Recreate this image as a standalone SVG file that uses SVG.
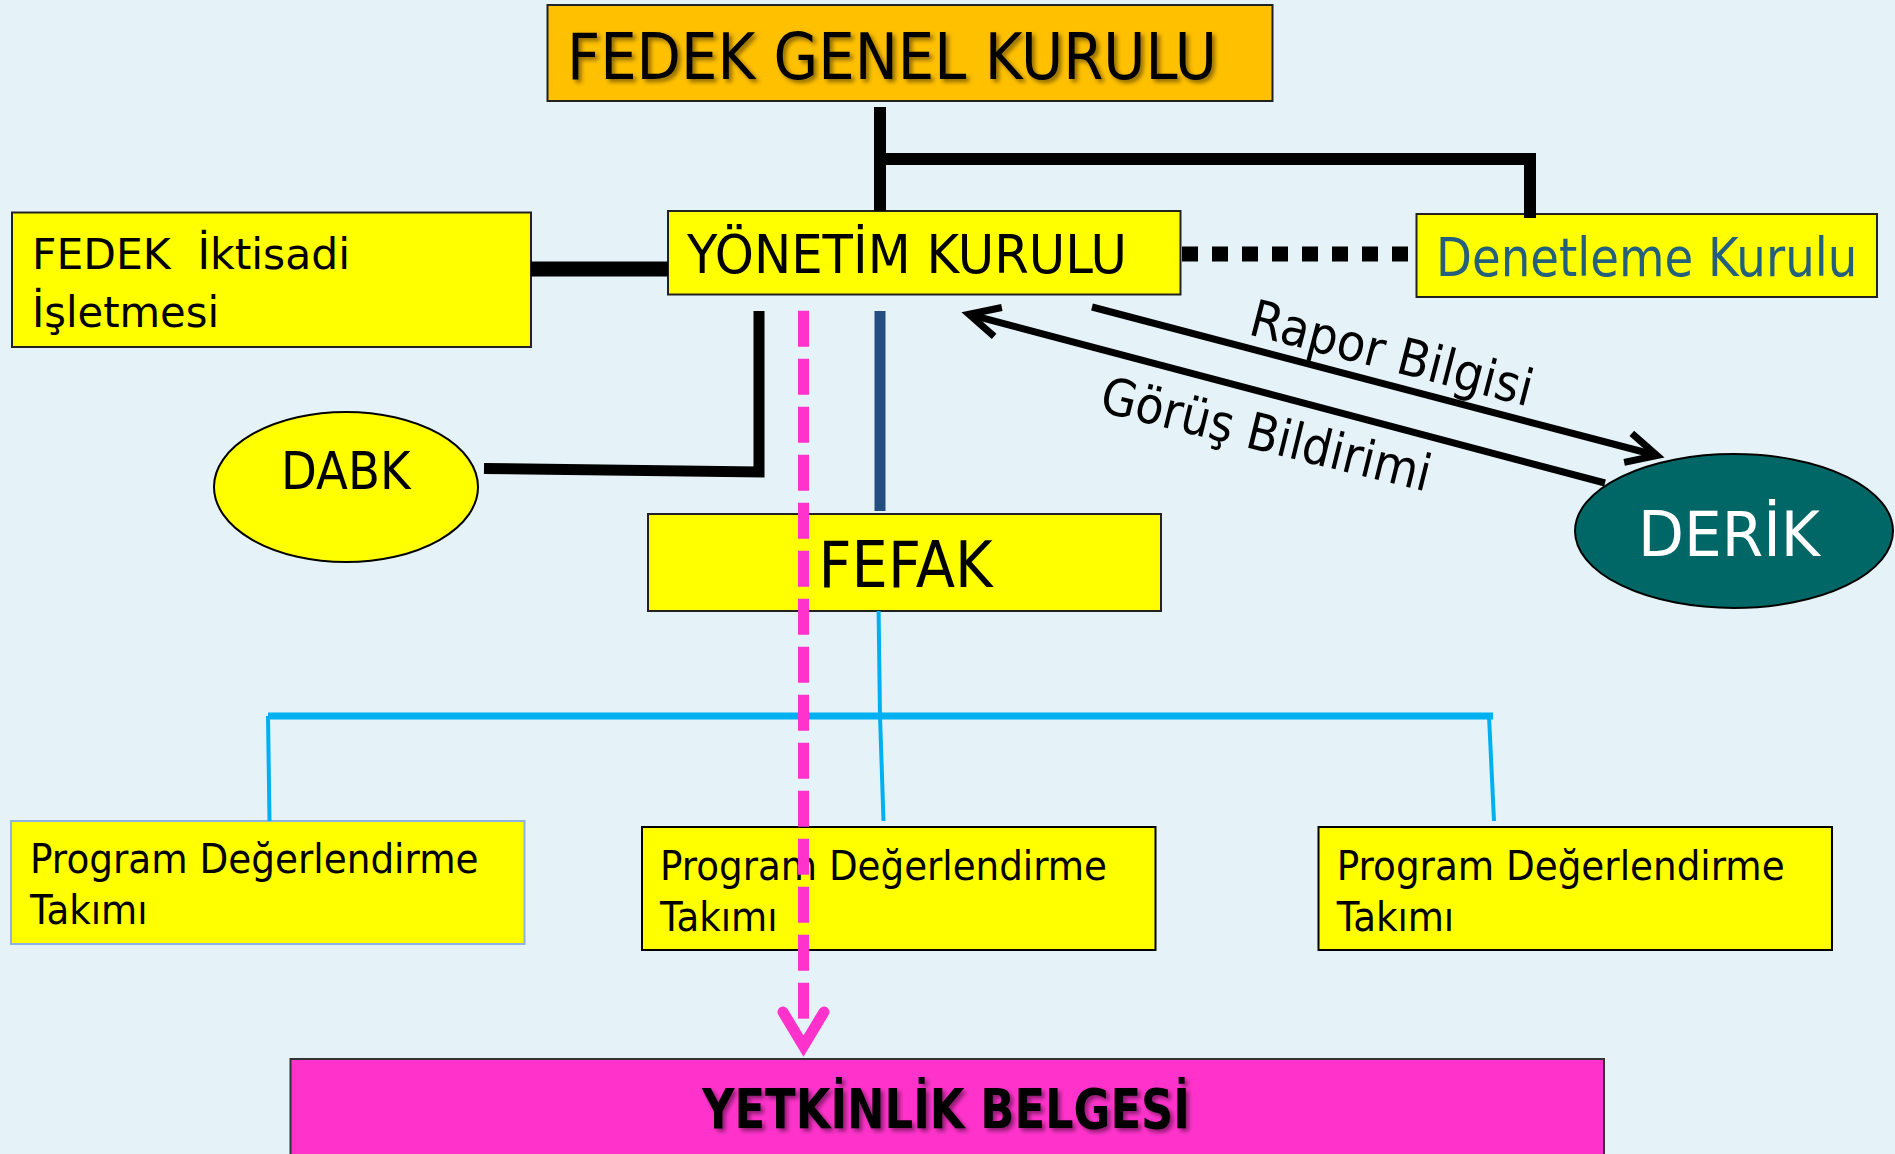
<svg xmlns="http://www.w3.org/2000/svg" width="1895" height="1154" viewBox="0 0 1895 1154">
  <defs>
    <style>
      text { font-family: "DejaVu Sans", "Liberation Sans", sans-serif; fill: #000; }
      .box { fill: #FFFF00; stroke: #222; stroke-width: 2; }
      .blk { fill: none; stroke: #000; stroke-linecap: butt; stroke-linejoin: miter; }
      .cyan { fill: none; stroke: #00B0F0; }
      .shadow { filter: url(#ts); }
    </style>
    <filter id="ts" x="-10%" y="-30%" width="120%" height="160%">
      <feDropShadow dx="3" dy="3" stdDeviation="2" flood-color="#000" flood-opacity="0.45"/>
    </filter>
    <marker id="open" markerUnits="userSpaceOnUse" viewBox="-40 -25 50 50" markerWidth="50" markerHeight="50" refX="0" refY="0" orient="auto">
      <path d="M-30,-15 L0,0 L-30,15" fill="none" stroke="#000" stroke-width="7" stroke-linejoin="miter"/>
    </marker>
  </defs>

  <rect x="0" y="0" width="1895" height="1154" fill="#E5F3F8"/>

  <g id="genel-kurul">
    <rect x="547.5" y="5" width="725" height="96" fill="#FFC000" stroke="#222" stroke-width="2"/>
    <text class="shadow" x="567" y="78.5" font-size="64" textLength="650" lengthAdjust="spacingAndGlyphs">FEDEK GENEL KURULU</text>
  </g>

  <g id="iktisadi">
    <rect class="box" x="12" y="212.5" width="519" height="134.5"/>
    <text x="32" y="269" font-size="42" textLength="318" lengthAdjust="spacingAndGlyphs">FEDEK&#160; İktisadi</text>
    <text x="32" y="326.7" font-size="42" textLength="187" lengthAdjust="spacingAndGlyphs">İşletmesi</text>
  </g>

  <g id="yonetim">
    <rect class="box" x="668" y="211" width="512.5" height="83.5"/>
    <text x="687" y="273" font-size="54" textLength="440" lengthAdjust="spacingAndGlyphs">YÖNETİM KURULU</text>
  </g>

  <g id="denetleme">
    <rect class="box" x="1416.5" y="214" width="460.5" height="83"/>
    <text transform="translate(1436 276) scale(0.865 1)" x="0" y="0" font-size="54" style="fill:#245F7C">Denetleme Kurulu</text>
  </g>

  <g id="dabk">
    <ellipse cx="346" cy="487" rx="132" ry="75" fill="#FFFF00" stroke="#000" stroke-width="2"/>
    <text x="281" y="489.3" font-size="52" textLength="129.5" lengthAdjust="spacingAndGlyphs">DABK</text>
  </g>

  <g id="fefak">
    <rect class="box" x="648" y="514" width="513" height="97"/>
    <text x="818.6" y="587.3" font-size="64" textLength="174" lengthAdjust="spacingAndGlyphs">FEFAK</text>
  </g>

  <g id="derik">
    <ellipse cx="1734" cy="531" rx="159" ry="77" fill="#006766" stroke="#000" stroke-width="2"/>
    <text x="1638" y="556" font-size="63" textLength="182" lengthAdjust="spacingAndGlyphs" style="fill:#FFFFFF">DERİK</text>
  </g>

  <g id="takim-1">
    <rect x="11" y="821" width="513.5" height="123" fill="#FFFF00" stroke="#8DB3E2" stroke-width="2"/>
    <text x="30" y="872.7" font-size="41" textLength="448.6" lengthAdjust="spacingAndGlyphs">Program Değerlendirme</text>
    <text x="30" y="924.3" font-size="41" textLength="117.5" lengthAdjust="spacingAndGlyphs">Takımı</text>
  </g>

  <g id="takim-2">
    <rect x="642" y="827" width="513.5" height="123" fill="#FFFF00" stroke="#000" stroke-width="2"/>
    <text x="660" y="880" font-size="41" textLength="447" lengthAdjust="spacingAndGlyphs">Program Değerlendirme</text>
    <text x="660" y="930.7" font-size="41" textLength="117.5" lengthAdjust="spacingAndGlyphs">Takımı</text>
  </g>

  <g id="takim-3">
    <rect x="1318.5" y="827" width="513.5" height="123" fill="#FFFF00" stroke="#000" stroke-width="2"/>
    <text x="1336.7" y="880" font-size="41" textLength="448" lengthAdjust="spacingAndGlyphs">Program Değerlendirme</text>
    <text x="1336.7" y="930.7" font-size="41" textLength="117.5" lengthAdjust="spacingAndGlyphs">Takımı</text>
  </g>

  <g id="yetkinlik">
    <rect x="290.5" y="1059" width="1313.5" height="110" fill="#FF33CC" stroke="#333" stroke-width="2"/>
    <text class="shadow" x="702" y="1127.7" font-size="55" font-weight="bold" textLength="488" lengthAdjust="spacingAndGlyphs">YETKİNLİK BELGESİ</text>
  </g>

  <g id="connectors">
    <path class="blk" d="M880 107 V211" stroke-width="12"/>
    <path class="blk" d="M880 159 H1530 V218" stroke-width="12"/>
    <path class="blk" d="M531 269 H668" stroke-width="15"/>
    <path class="blk" d="M1182 254 H1416" stroke-width="15" stroke-dasharray="16 14"/>
    <path class="blk" d="M759 311 V472 L484 468.5" stroke-width="11"/>
    <path d="M880 311 V511" stroke="#254E80" stroke-width="11" fill="none"/>
    <path class="cyan" d="M878.6 611 L880 716 L883.5 821" stroke-width="4"/>
    <path class="cyan" d="M268 716 H1493" stroke-width="7"/>
    <path class="cyan" d="M268 716 L269.5 821" stroke-width="4"/>
    <path class="cyan" d="M1489 716 L1494 821" stroke-width="4"/>
    <path class="blk" d="M1092 307 L1657 455.5" stroke-width="7" marker-end="url(#open)"/>
    <path class="blk" d="M1605 483 L969 314.3" stroke-width="7" marker-end="url(#open)"/>
    <path d="M803.5 310.7 V1018.7" stroke="#FF33CC" stroke-width="11" stroke-dasharray="36 12" fill="none"/>
    <path d="M783 1012 L803.5 1046 L824 1012" stroke="#FF33CC" stroke-width="11" fill="none" stroke-linecap="round" stroke-linejoin="miter"/>
    <text transform="translate(1247 334) rotate(14.5)" font-size="51" textLength="290" lengthAdjust="spacingAndGlyphs">Rapor Bilgisi</text>
    <text transform="translate(1098 411) rotate(13.8)" font-size="51" textLength="338" lengthAdjust="spacingAndGlyphs">Görüş Bildirimi</text>
  </g>
</svg>
